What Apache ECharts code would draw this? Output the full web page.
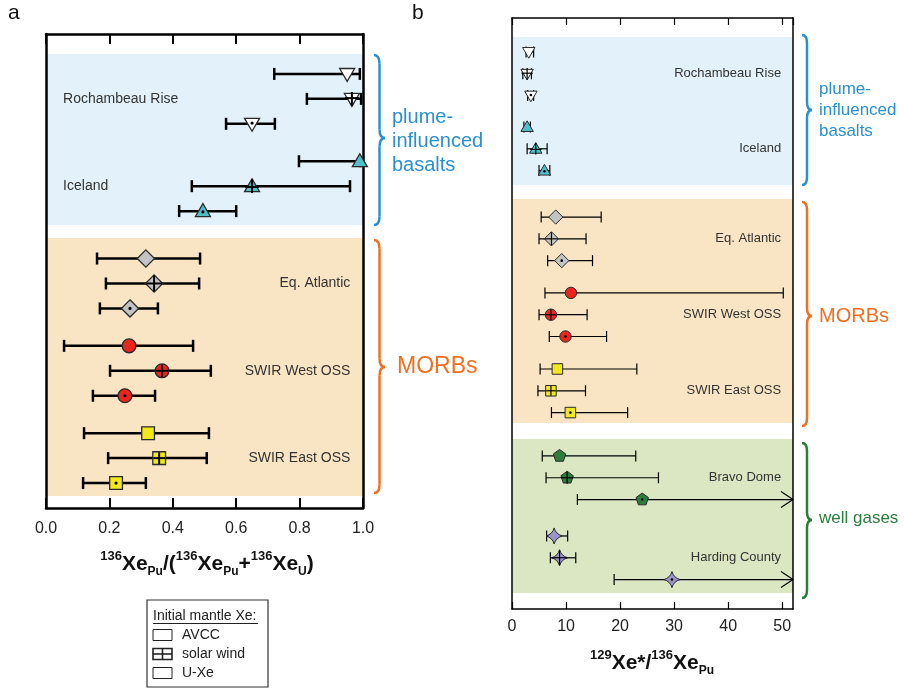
<!doctype html>
<html>
<head>
<meta charset="utf-8">
<title>Xe ratios</title>
<style>
  html, body { margin: 0; padding: 0; background: #fff; }
  #chart { width: 904px; height: 690px; }
</style>
</head>
<body>
<div id="chart"></div>
<script src="https://cdn.jsdelivr.net/npm/echarts@6/dist/echarts.min.js"></script>
<script>
// ---- data ----
var groupsA = ['Rochambeau Rise', 'Iceland', 'Eq. Atlantic', 'SWIR West OSS', 'SWIR East OSS'];
var groupsB = ['Rochambeau Rise', 'Iceland', 'Eq. Atlantic', 'SWIR West OSS', 'SWIR East OSS', 'Bravo Dome', 'Harding County'];
var models = ['AVCC', 'solar wind', 'U-Xe'];

// panel a : 136Xe_Pu / (136Xe_Pu + 136Xe_U), rows = AVCC, solar wind, U-Xe
var fracVal = [[0.95, 0.965, 0.65], [0.99, 0.65, 0.495], [0.315, 0.341, 0.265], [0.262, 0.366, 0.249], [0.322, 0.357, 0.221]];
var fracLo  = [[0.72, 0.823, 0.568], [0.798, 0.46, 0.42], [0.161, 0.189, 0.170], [0.057, 0.202, 0.148], [0.12, 0.196, 0.117]];
var fracHi  = [[0.99, 0.994, 0.722], [0.99, 0.959, 0.60], [0.486, 0.483, 0.353], [0.464, 0.52, 0.344], [0.514, 0.507, 0.315]];

// panel b : 129Xe* / 136Xe_Pu  (null = open upper bound)
var ratioVal = [[3.1, 2.8, 3.5], [2.8, 4.4, 6.0], [8.1, 7.3, 9.2], [10.9, 7.2, 9.9], [8.4, 7.2, 10.8], [8.8, 10.2, 24.1], [7.8, 8.8, 29.6]];
var ratioLo  = [[2.6, 2.0, 2.9], [2.2, 2.8, 5.0], [5.4, 5.0, 6.6], [6.1, 5.0, 6.9], [5.2, 4.8, 7.3], [5.6, 6.3, 12.1], [6.4, 7.1, 18.9]];
var ratioHi  = [[4.0, 3.6, 4.0], [3.4, 6.5, 7.0], [16.5, 13.7, 14.9], [50.2, 13.9, 17.5], [23.1, 13.6, 21.4], [22.9, 27.1, null], [10.3, 11.8, null]];

// ---- layout / styles ----
var FONT = 'Liberation Sans, Arial, sans-serif';
var markerKind = ['triDown', 'triUp', 'diamond', 'circle', 'square', 'pentagon', 'star4'];
var markerFill = ['#ffffff', '#52bdcb', '#c3c3c3', '#e8261f', '#f2e81d', '#2f7d3d', '#9d93cc'];
var kindScale = {triDown: 1, triUp: 1, diamond: 1.15, circle: 0.92, square: 0.85, pentagon: 1.05, star4: 1.3};

var startsA = [1.6, 5.1, 9, 12.5, 16];
var startsB = [1.56, 5.0, 9.13, 12.61, 16.1, 20.09, 23.76];
var bandsA = [[0.8, 7.66, '#e3f2fa'], [8.18, 18.52, '#f9e5c3']];
var bandsB = [[0.87, 7.66, '#e3f2fa'], [8.3, 18.58, '#f9e5c3'], [19.31, 26.38, '#dbe6c2']];
var labelSideA = ['left', 'left', 'right', 'right', 'right'];

function buildRows(vals, starts) {
  var rows = [];
  vals.forEach(function (grp, g) {
    grp.forEach(function (v, m) { rows.push([v, starts[g] + m, g, m]); });
  });
  return rows;
}

function markerShape(kind, cx, cy, r, fill, lw) {
  var st = {fill: fill, stroke: '#2a2a2a', lineWidth: lw};
  if (kind === 'circle') return {type: 'circle', shape: {cx: cx, cy: cy, r: r}, style: st};
  if (kind === 'square') return {type: 'rect', shape: {x: cx - r, y: cy - r, width: 2 * r, height: 2 * r}, style: st};
  var pts;
  if (kind === 'triDown') pts = [[cx - r, cy - 0.72 * r], [cx + r, cy - 0.72 * r], [cx, cy + r]];
  else if (kind === 'triUp') pts = [[cx - r, cy + 0.72 * r], [cx + r, cy + 0.72 * r], [cx, cy - r]];
  else if (kind === 'diamond') pts = [[cx, cy - r], [cx + r, cy], [cx, cy + r], [cx - r, cy]];
  else if (kind === 'pentagon') {
    pts = [];
    for (var i = 0; i < 5; i++) {
      var a = -Math.PI / 2 + i * 2 * Math.PI / 5;
      pts.push([cx + r * Math.cos(a), cy + r * Math.sin(a)]);
    }
  } else if (kind === 'star4') {
    var k = 0.22 * r;
    var d = 'M' + cx + ',' + (cy - r) +
      ' Q' + (cx + k) + ',' + (cy - k) + ' ' + (cx + r) + ',' + cy +
      ' Q' + (cx + k) + ',' + (cy + k) + ' ' + cx + ',' + (cy + r) +
      ' Q' + (cx - k) + ',' + (cy + k) + ' ' + (cx - r) + ',' + cy +
      ' Q' + (cx - k) + ',' + (cy - k) + ' ' + cx + ',' + (cy - r) + ' Z';
    return {type: 'path', shape: {pathData: d}, style: st};
  }
  return {type: 'polygon', shape: {points: pts}, style: st};
}

function pointRenderer(los, his, opt) {
  return function (params, api) {
    var g = api.value(2), m = api.value(3), yv = api.value(1);
    var c = api.coord([api.value(0), yv]);
    var y = c[1];
    var cs = params.coordSys;
    var xl = api.coord([los[g][m], yv])[0];
    var open = his[g][m] == null;
    var xr = open ? cs.x + cs.width : api.coord([his[g][m], yv])[0];
    var ls = {stroke: '#000', lineWidth: opt.lw};
    var kids = [
      {type: 'line', shape: {x1: xl, y1: y, x2: xr, y2: y}, style: ls},
      {type: 'line', shape: {x1: xl, y1: y - opt.cap, x2: xl, y2: y + opt.cap}, style: ls}
    ];
    if (open) {
      kids.push({type: 'polyline', shape: {points: [[xr - 12, y - 8], [xr, y], [xr - 12, y + 8]]},
        style: {stroke: '#000', lineWidth: opt.lw, fill: null}});
    } else {
      kids.push({type: 'line', shape: {x1: xr, y1: y - opt.cap, x2: xr, y2: y + opt.cap}, style: ls});
    }
    var kind = markerKind[g];
    var r = opt.size * kindScale[kind];
    kids.push(markerShape(kind, c[0], y, r, markerFill[g], opt.mlw));
    var cyc = y;
    if (kind === 'triDown') cyc = y - 0.1 * r;
    if (kind === 'triUp') cyc = y + 0.1 * r;
    if (m === 1) {
      var e = r * 0.92;
      kids.push({type: 'line', shape: {x1: c[0] - e, y1: cyc, x2: c[0] + e, y2: cyc}, style: {stroke: '#000', lineWidth: opt.xlw}});
      kids.push({type: 'line', shape: {x1: c[0], y1: y - e, x2: c[0], y2: y + e}, style: {stroke: '#000', lineWidth: opt.xlw}});
    } else if (m === 2) {
      kids.push({type: 'circle', shape: {cx: c[0], cy: cyc, r: opt.dot}, style: {fill: '#000'}});
    }
    return {type: 'group', children: kids};
  };
}

function bandRenderer(bands) {
  return function (params, api) {
    var b = bands[params.dataIndex];
    var cs = params.coordSys;
    var y0 = api.coord([0, b[0]])[1], y1 = api.coord([0, b[1]])[1];
    return {type: 'rect', shape: {x: cs.x, y: y0, width: cs.width, height: y1 - y0}, style: {fill: b[2]}};
  };
}

function labelRenderer(names, sides, fontSize) {
  return function (params, api) {
    var p = api.coord([api.value(0), api.value(1)]);
    var g = api.value(2);
    return {type: 'text', x: p[0], y: p[1],
      style: {text: names[g], fill: '#333', fontSize: fontSize, fontFamily: FONT,
        align: sides[g], verticalAlign: 'middle'}};
  };
}

// curly brace built from quadratic curves and lines
function brace(x, y0, y1, ym, w, color) {
  var xm = x + w * 0.5, r = w * 0.8;
  var st = {stroke: color, lineWidth: 2.5, fill: null};
  function q(ax, ay, cx, cy, bx, by) {
    return {type: 'bezierCurve', shape: {x1: ax, y1: ay, cpx1: cx, cpy1: cy, x2: bx, y2: by}, style: st};
  }
  function l(ax, ay, bx, by) {
    return {type: 'line', shape: {x1: ax, y1: ay, x2: bx, y2: by}, style: st};
  }
  return {type: 'group', children: [
    q(x, y0, xm, y0, xm, y0 + r),
    l(xm, y0 + r, xm, ym - r),
    q(xm, ym - r, xm, ym, x + w, ym),
    q(x + w, ym, xm, ym, xm, ym + r),
    l(xm, ym + r, xm, y1 - r),
    q(xm, y1 - r, xm, y1, x, y1)
  ]};
}
function label(x, y, text, size, color, lh) {
  return {type: 'text', x: x, y: y,
    style: {text: text, fontSize: size, fontFamily: FONT, fill: color, lineHeight: lh || size,
      align: 'left', verticalAlign: 'middle'}};
}

var titleRich = {
  b: {fontSize: 21, fontWeight: 'bold', fontFamily: FONT, fill: '#111', lineHeight: 28, verticalAlign: 'middle'},
  sup: {fontSize: 13, fontWeight: 'bold', fontFamily: FONT, fill: '#111', lineHeight: 17, verticalAlign: 'top'},
  sub: {fontSize: 12, fontWeight: 'bold', fontFamily: FONT, fill: '#111', lineHeight: 20, verticalAlign: 'bottom'}
};

function xAxes(grid, min, max, interval, lw, tickLen, fontSize, margin, fmt) {
  function make(pos, showLabel) {
    return {
      gridIndex: grid, type: 'value', position: pos, min: min, max: max, interval: interval, z: 3,
      axisLine: {show: true, onZero: false, lineStyle: {color: '#000', width: lw}},
      axisTick: {show: true, inside: true, length: tickLen, lineStyle: {color: '#000', width: lw * 0.8}},
      axisLabel: {show: showLabel, fontSize: fontSize, fontFamily: FONT, color: '#222', margin: margin, formatter: fmt},
      splitLine: {show: false}
    };
  }
  return [make('bottom', true), make('top', false)];
}
function yAxes(grid, max, lw) {
  function make(pos) {
    return {gridIndex: grid, type: 'value', position: pos, inverse: true, min: 0, max: max, z: 3,
      axisLine: {show: true, onZero: false, lineStyle: {color: '#000', width: lw}},
      axisTick: {show: false}, axisLabel: {show: false}, splitLine: {show: false}};
  }
  return [make('left'), make('right')];
}

var chart = echarts.init(document.getElementById('chart'), null, {renderer: 'canvas'});

var graphics = [
  {type: 'text', x: 8, y: 13, style: {text: 'a', fontSize: 21, fontFamily: FONT, fill: '#111', verticalAlign: 'middle'}},
  {type: 'text', x: 412, y: 13, style: {text: 'b', fontSize: 21, fontFamily: FONT, fill: '#111', verticalAlign: 'middle'}},
  // braces, panel a
  brace(374, 55, 225, 138, 11, '#2b90d0'),
  label(392, 141, 'plume-\ninfluenced\nbasalts', 20, '#2b90d0', 24),
  brace(374, 240, 493, 367, 11, '#f07020'),
  label(397, 367, 'MORBs', 23, '#f07020'),
  // braces, panel b
  brace(802, 35, 185, 110, 10, '#2b90d0'),
  label(819, 110, 'plume-\ninfluenced\nbasalts', 17, '#2b90d0', 21),
  brace(802, 202, 426, 316, 10, '#f07020'),
  label(819, 316, 'MORBs', 20, '#f07020'),
  brace(802, 443, 598, 520, 10, '#2a7d3a'),
  label(819, 518, 'well gases', 17, '#2a7d3a'),
  // axis titles
  {type: 'text', x: 207, y: 564, style: {
    text: '{sup|136}{b|Xe}{sub|Pu}{b|/(}{sup|136}{b|Xe}{sub|Pu}{b|+}{sup|136}{b|Xe}{sub|U}{b|)}',
    rich: titleRich, align: 'center', verticalAlign: 'middle'}},
  {type: 'text', x: 652, y: 663, style: {
    text: '{sup|129}{b|Xe*/}{sup|136}{b|Xe}{sub|Pu}',
    rich: titleRich, align: 'center', verticalAlign: 'middle'}},
  // legend
  {type: 'rect', shape: {x: 147, y: 600, width: 121, height: 87}, style: {fill: '#fff', stroke: '#333', lineWidth: 1.2}},
  label(153, 616, 'Initial mantle Xe:', 14, '#222'),
  {type: 'line', shape: {x1: 153, y1: 623.5, x2: 258, y2: 623.5}, style: {stroke: '#222', lineWidth: 1.2}}
];
models.forEach(function (name, i) {
  var yc = 635 + i * 19;
  graphics.push({type: 'rect', shape: {x: 153, y: yc - 5.5, width: 19, height: 11},
    style: {fill: '#fff', stroke: '#222', lineWidth: i === 1 ? 1.6 : 1}});
  if (i === 1) {
    graphics.push({type: 'line', shape: {x1: 153, y1: yc, x2: 172, y2: yc}, style: {stroke: '#222', lineWidth: 1.6}});
    graphics.push({type: 'line', shape: {x1: 162.5, y1: yc - 5.5, x2: 162.5, y2: yc + 5.5}, style: {stroke: '#222', lineWidth: 1.6}});
  }
  graphics.push(label(182, yc, name, 14, '#222'));
});

var option = {
  animation: false,
  backgroundColor: '#fff',
  grid: [
    {left: 46, top: 34, width: 317, height: 474, show: false},
    {left: 512, top: 18, width: 281, height: 591, show: false}
  ],
  xAxis: xAxes(0, 0, 1, 0.2, 2.5, 10, 16, 13, function (v) { return v.toFixed(1); })
    .concat(xAxes(1, 0, 52, 10, 1.5, 7, 16, 10, function (v) { return String(v); })),
  yAxis: yAxes(0, 19, 2.5).concat(yAxes(1, 27.11, 1.5)),
  series: [
    {type: 'custom', xAxisIndex: 0, yAxisIndex: 0, z: 1, silent: true,
      data: bandsA.map(function (b) { return [0, b[0]]; }), renderItem: bandRenderer(bandsA)},
    {type: 'custom', xAxisIndex: 2, yAxisIndex: 2, z: 1, silent: true,
      data: bandsB.map(function (b) { return [0, b[0]]; }), renderItem: bandRenderer(bandsB)},
    {type: 'custom', xAxisIndex: 0, yAxisIndex: 0, z: 4, clip: false,
      data: buildRows(fracVal, startsA),
      renderItem: pointRenderer(fracLo, fracHi, {lw: 2.5, cap: 6, size: 7.5, mlw: 1.3, xlw: 2, dot: 1.6})},
    {type: 'custom', xAxisIndex: 2, yAxisIndex: 2, z: 4, clip: false,
      data: buildRows(ratioVal, startsB),
      renderItem: pointRenderer(ratioLo, ratioHi, {lw: 1.2, cap: 5.5, size: 6.2, mlw: 1, xlw: 1.2, dot: 1.3})},
    {type: 'custom', xAxisIndex: 0, yAxisIndex: 0, z: 4, silent: true,
      data: groupsA.map(function (n, g) { return [labelSideA[g] === 'left' ? 0.054 : 0.96, startsA[g] + 1, g]; }),
      renderItem: labelRenderer(groupsA, labelSideA, 14)},
    {type: 'custom', xAxisIndex: 2, yAxisIndex: 2, z: 4, silent: true,
      data: groupsB.map(function (n, g) { return [49.8, startsB[g] + 1, g]; }),
      renderItem: labelRenderer(groupsB, groupsB.map(function () { return 'right'; }), 13)}
  ],
  graphic: graphics
};

chart.setOption(option);
</script>
</body>
</html>
